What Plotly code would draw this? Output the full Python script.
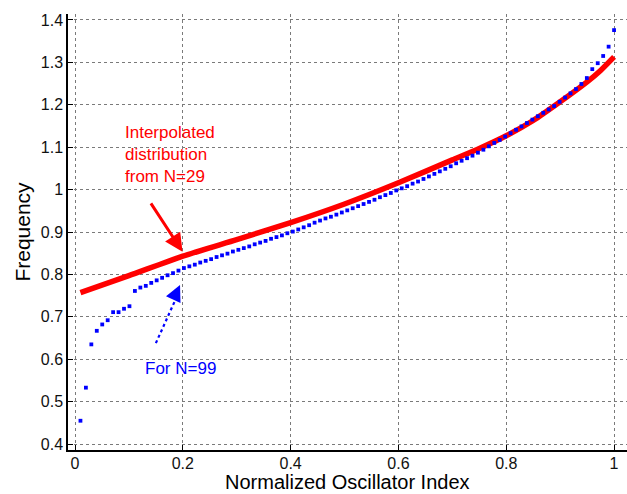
import plotly.graph_objects as go

# Blue dots: N=99 oscillators, normalized index i/99
n99_index = [i / 99 for i in range(1, 100)]
n99_freq = [
    0.455, 0.533, 0.635, 0.667, 0.682, 0.692, 0.711, 0.711, 0.719, 0.725,
    0.761, 0.769, 0.773, 0.780, 0.786, 0.792, 0.798, 0.803, 0.809, 0.815,
    0.819, 0.823, 0.828, 0.832, 0.836, 0.841, 0.845, 0.849, 0.854, 0.858,
    0.862, 0.866, 0.871, 0.875, 0.879, 0.884, 0.888, 0.892, 0.897, 0.901,
    0.906, 0.911, 0.916, 0.922, 0.927, 0.932, 0.936, 0.941, 0.946, 0.951,
    0.956, 0.961, 0.966, 0.971, 0.976, 0.982, 0.987, 0.992, 0.998, 1.003,
    1.008, 1.014, 1.019, 1.025, 1.031, 1.037, 1.043, 1.049, 1.055, 1.062,
    1.068, 1.074, 1.080, 1.087, 1.094, 1.102, 1.110, 1.117, 1.125, 1.133,
    1.141, 1.149, 1.157, 1.165, 1.173, 1.181, 1.189, 1.197, 1.207, 1.217,
    1.227, 1.237, 1.249, 1.263, 1.284, 1.298, 1.315, 1.337, 1.376,
]

# Red curve: interpolated distribution from N=29
interp_index = [0.0101, 0.1, 0.2, 0.3, 0.4, 0.5, 0.6, 0.7, 0.75, 0.8, 0.85, 0.9, 0.95, 0.975, 1.0]
interp_freq = [0.757, 0.797, 0.843, 0.882, 0.922, 0.966, 1.016, 1.070, 1.097, 1.127, 1.163, 1.207, 1.254, 1.281, 1.313]

x_ticks = [0, 0.2, 0.4, 0.6, 0.8, 1.0]
x_tick_labels = ["0", "0.2", "0.4", "0.6", "0.8", "1"]
y_ticks = [0.4, 0.5, 0.6, 0.7, 0.8, 0.9, 1.0, 1.1, 1.2, 1.3, 1.4]
y_tick_labels = ["0.4", "0.5", "0.6", "0.7", "0.8", "0.9", "1", "1.1", "1.2", "1.3", "1.4"]

FONT = "Liberation Sans, Arial, Helvetica, sans-serif"
PLOT_H = 494 - 14 - 44

fig = go.Figure()
fig.add_trace(go.Scatter(
    x=interp_index, y=interp_freq, mode="lines",
    line=dict(color="#ff0000", width=5.5, shape="spline", smoothing=0.6),
    showlegend=False, hoverinfo="skip",
))
fig.add_trace(go.Scatter(
    x=n99_index, y=n99_freq, mode="markers",
    marker=dict(symbol="square", size=3.8, color="#0000ff", line=dict(width=0)),
    showlegend=False, hoverinfo="skip",
))

# Red arrow
fig.add_annotation(
    x=0.1994, y=0.8535, ax=0.139, ay=0.971, xref="x", yref="y", axref="x", ayref="y",
    text="", showarrow=True, arrowhead=2, arrowsize=1.2, arrowwidth=3, arrowcolor="#ff0000",
    standoff=0,
)
# Blue dotted arrow shaft
fig.add_shape(
    type="line", x0=0.150, y0=0.638, x1=0.189, y1=0.748, xref="x", yref="y",
    line=dict(color="#0000ff", width=2.2, dash="dot"),
)
# Blue arrow head
fig.add_annotation(
    x=0.1948, y=0.775, ax=0.186, ay=0.751, xref="x", yref="y", axref="x", ayref="y",
    text="", showarrow=True, arrowhead=2, arrowsize=1.6, arrowwidth=2, arrowcolor="#0000ff",
    standoff=0,
)

fig.add_annotation(
    x=0.089, y=1.082, xref="x", yref="y", xanchor="left", yanchor="middle",
    text="Interpolated<br>distribution<br>from N=29", align="left", showarrow=False,
    font=dict(family=FONT, size=17, color="#ff0000"),
)
fig.add_annotation(
    x=0.1256, y=0.5785, xref="x", yref="y", xanchor="left", yanchor="middle",
    text="For N=99", align="left", showarrow=False,
    font=dict(family=FONT, size=17, color="#0000ff"),
)

# x-axis title at the bottom edge of the figure
fig.add_annotation(
    x=0.5, y=-44 / PLOT_H, xref="paper", yref="paper", xanchor="center", yanchor="bottom",
    text="Normalized Oscillator Index", showarrow=False, borderpad=0,
    font=dict(family=FONT, size=20, color="black"),
)

axis_common = dict(
    showgrid=True, gridcolor="#7a7a7a", griddash="dot", gridwidth=1,
    zeroline=False, showline=True, linecolor="black", linewidth=1.5,
    ticks="inside", ticklen=5, tickcolor="black", tickwidth=1,
    tickfont=dict(family=FONT, size=16, color="#111"),
    mirror=False,
)
fig.update_xaxes(
    range=[-0.013, 1.024], tickvals=x_ticks, ticktext=x_tick_labels,
    ticklabelstandoff=-2,
    **axis_common,
)
fig.update_yaxes(
    range=[0.386, 1.414], tickvals=y_ticks, ticktext=y_tick_labels,
    title=dict(text="Frequency", font=dict(family=FONT, size=21, color="black"), standoff=4),
    **axis_common,
)
fig.update_layout(
    width=627, height=494,
    margin=dict(l=68, r=0, t=14, b=44, autoexpand=False),
    plot_bgcolor="white", paper_bgcolor="white",
    showlegend=False,
)
fig.write_html(
    "out.html",
    config={"displayModeBar": False},
    post_script="document.body.style.margin='0';document.body.style.overflow='hidden';",
)
